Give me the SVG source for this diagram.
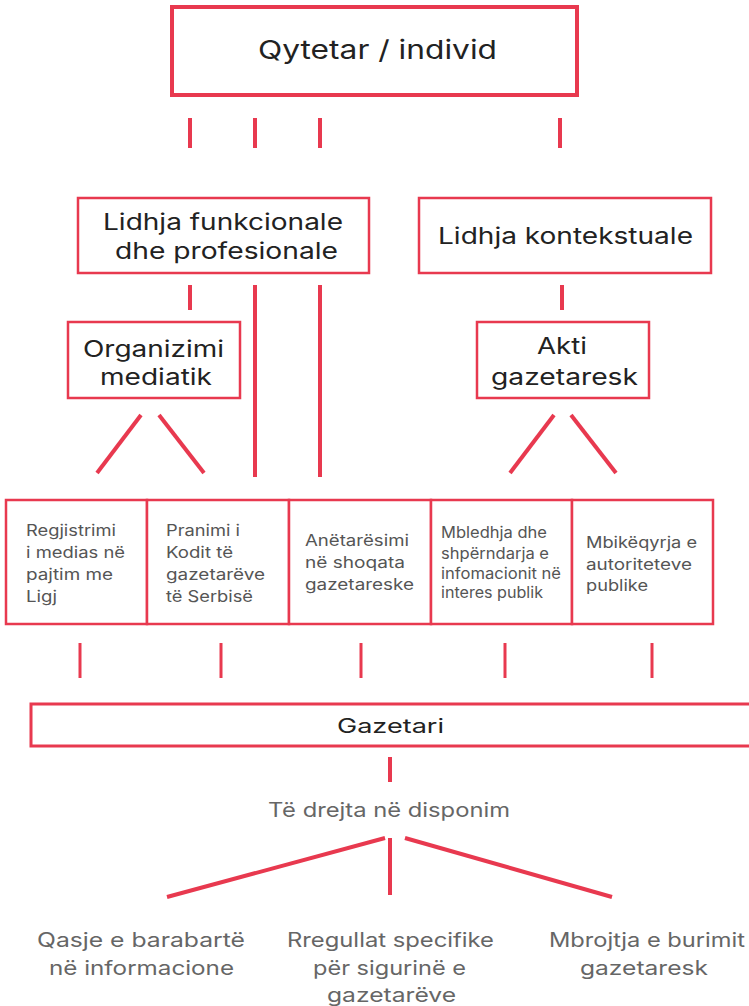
<svg xmlns="http://www.w3.org/2000/svg" width="749" height="1006" viewBox="0 0 749 1006">
<style>
.box{fill:#fff;stroke:#e8394f;stroke-width:2.5}
.ln{stroke:#e8394f;stroke-width:4;fill:none}
.lt{stroke:#e8394f;stroke-width:3;fill:none}
text{font-family:Inter,"Noto Sans",sans-serif}
.t{fill:#222;text-anchor:middle}
.s{fill:#555;font-size:15.5px}
.g{fill:#666;text-anchor:middle;font-size:19.5px}
</style>
<rect width="749" height="1006" fill="#fff"/>
<g id="connectors">
<line class="ln" x1="190" y1="118" x2="190" y2="148"/>
<line class="ln" x1="255" y1="118" x2="255" y2="148"/>
<line class="ln" x1="320" y1="118" x2="320" y2="148"/>
<line class="ln" x1="560" y1="118" x2="560" y2="148"/>
<line class="ln" x1="190" y1="285" x2="190" y2="310"/>
<line class="ln" x1="255" y1="285" x2="255" y2="477"/>
<line class="ln" x1="320" y1="285" x2="320" y2="477"/>
<line class="ln" x1="562" y1="285" x2="562" y2="310"/>
<line class="ln" x1="141" y1="415" x2="97" y2="473"/>
<line class="ln" x1="159" y1="415" x2="204" y2="473"/>
<line class="ln" x1="554" y1="415" x2="510" y2="473"/>
<line class="ln" x1="571" y1="415" x2="616" y2="473"/>
<line class="lt" x1="80" y1="643" x2="80" y2="678"/>
<line class="lt" x1="221" y1="643" x2="221" y2="678"/>
<line class="lt" x1="361" y1="643" x2="361" y2="678"/>
<line class="lt" x1="505" y1="643" x2="505" y2="678"/>
<line class="lt" x1="652" y1="643" x2="652" y2="678"/>
<line class="ln" x1="390" y1="757" x2="390" y2="782"/>
<line class="ln" x1="385" y1="838" x2="167" y2="897"/>
<line class="ln" x1="390" y1="838" x2="390" y2="895"/>
<line class="ln" x1="405" y1="838" x2="612" y2="897"/>
</g>
<g id="qytetar">
<rect class="box" x="172" y="7" width="405" height="88" style="stroke-width:4"/>
<text class="t" x="377.5" y="59" font-size="26" textLength="239" lengthAdjust="spacingAndGlyphs">Qytetar / individ</text>
</g>
<g id="lidhja-funkcionale">
<rect class="box" x="78" y="198" width="291" height="75"/>
<text class="t" x="223" y="230" font-size="22.5" textLength="240" lengthAdjust="spacingAndGlyphs">Lidhja funkcionale</text>
<text class="t" x="226.5" y="259" font-size="22.5" textLength="223" lengthAdjust="spacingAndGlyphs">dhe profesionale</text>
</g>
<g id="lidhja-kontekstuale">
<rect class="box" x="419" y="198" width="292" height="75"/>
<text class="t" x="565.5" y="244" font-size="22.5" textLength="255" lengthAdjust="spacingAndGlyphs">Lidhja kontekstuale</text>
</g>
<g id="organizimi">
<rect class="box" x="68" y="322" width="172" height="76"/>
<text class="t" x="153.5" y="357" font-size="22.5" textLength="141" lengthAdjust="spacingAndGlyphs">Organizimi</text>
<text class="t" x="156" y="385" font-size="22.5" textLength="112" lengthAdjust="spacingAndGlyphs">mediatik</text>
</g>
<g id="akti">
<rect class="box" x="477" y="322" width="172" height="76"/>
<text class="t" x="562" y="354" font-size="22.5" textLength="50" lengthAdjust="spacingAndGlyphs">Akti</text>
<text class="t" x="564.5" y="385" font-size="22.5" textLength="147" lengthAdjust="spacingAndGlyphs">gazetaresk</text>
</g>
<g id="row">
<rect class="box" x="6" y="500" width="141" height="124"/>
<rect class="box" x="147" y="500" width="142" height="124"/>
<rect class="box" x="289" y="500" width="142" height="124"/>
<rect class="box" x="431" y="500" width="141" height="124"/>
<rect class="box" x="572" y="500" width="141" height="124"/>
</g>
<g id="regjistrimi">
<text class="s" x="26" y="536" textLength="90" lengthAdjust="spacingAndGlyphs">Regjistrimi</text>
<text class="s" x="26" y="558" textLength="99" lengthAdjust="spacingAndGlyphs">i medias në</text>
<text class="s" x="26" y="580" textLength="87" lengthAdjust="spacingAndGlyphs">pajtim me</text>
<text class="s" x="26" y="602" textLength="31" lengthAdjust="spacingAndGlyphs">Ligj</text>
</g>
<g id="pranimi">
<text class="s" x="166" y="536" textLength="74" lengthAdjust="spacingAndGlyphs">Pranimi i</text>
<text class="s" x="166" y="558" textLength="67" lengthAdjust="spacingAndGlyphs">Kodit të</text>
<text class="s" x="166" y="580" textLength="99" lengthAdjust="spacingAndGlyphs">gazetarëve</text>
<text class="s" x="166" y="602" textLength="87" lengthAdjust="spacingAndGlyphs">të Serbisë</text>
</g>
<g id="anetaresimi">
<text class="s" x="305" y="546" textLength="104" lengthAdjust="spacingAndGlyphs">Anëtarësimi</text>
<text class="s" x="305" y="568" textLength="100" lengthAdjust="spacingAndGlyphs">në shoqata</text>
<text class="s" x="305" y="590" textLength="109" lengthAdjust="spacingAndGlyphs">gazetareske</text>
</g>
<g id="mbledhja">
<text class="s" x="441" y="538" font-size="14.5" textLength="106" lengthAdjust="spacingAndGlyphs">Mbledhja dhe</text>
<text class="s" x="441" y="559" font-size="14.5" textLength="108" lengthAdjust="spacingAndGlyphs">shpërndarja e</text>
<text class="s" x="441" y="579" font-size="14.5" textLength="120" lengthAdjust="spacingAndGlyphs">infomacionit në</text>
<text class="s" x="441" y="598" font-size="14.5" textLength="102" lengthAdjust="spacingAndGlyphs">interes publik</text>
</g>
<g id="mbikeqyrja">
<text class="s" x="586" y="548" textLength="111" lengthAdjust="spacingAndGlyphs">Mbikëqyrja e</text>
<text class="s" x="586" y="570" textLength="106" lengthAdjust="spacingAndGlyphs">autoriteteve</text>
<text class="s" x="586" y="591" textLength="62" lengthAdjust="spacingAndGlyphs">publike</text>
</g>
<g id="gazetari">
<rect class="box" x="31" y="704" width="730" height="42" style="stroke-width:3"/>
<text class="t" x="390.5" y="733" font-size="20" textLength="107" lengthAdjust="spacingAndGlyphs">Gazetari</text>
</g>
<g id="te-drejta">
<text class="g" x="389" y="817" textLength="242" lengthAdjust="spacingAndGlyphs">Të drejta në disponim</text>
</g>
<g id="qasje">
<text class="g" x="141" y="947" textLength="208" lengthAdjust="spacingAndGlyphs">Qasje e barabartë</text>
<text class="g" x="141.5" y="975" textLength="185" lengthAdjust="spacingAndGlyphs">në informacione</text>
</g>
<g id="rregullat">
<text class="g" x="390.5" y="947" textLength="207" lengthAdjust="spacingAndGlyphs">Rregullat specifike</text>
<text class="g" x="389.5" y="975" textLength="153" lengthAdjust="spacingAndGlyphs">për sigurinë e</text>
<text class="g" x="391.5" y="1002" textLength="129" lengthAdjust="spacingAndGlyphs">gazetarëve</text>
</g>
<g id="mbrojtja">
<text class="g" x="647" y="947" textLength="196" lengthAdjust="spacingAndGlyphs">Mbrojtja e burimit</text>
<text class="g" x="644" y="975" textLength="128" lengthAdjust="spacingAndGlyphs">gazetaresk</text>
</g>
</svg>
